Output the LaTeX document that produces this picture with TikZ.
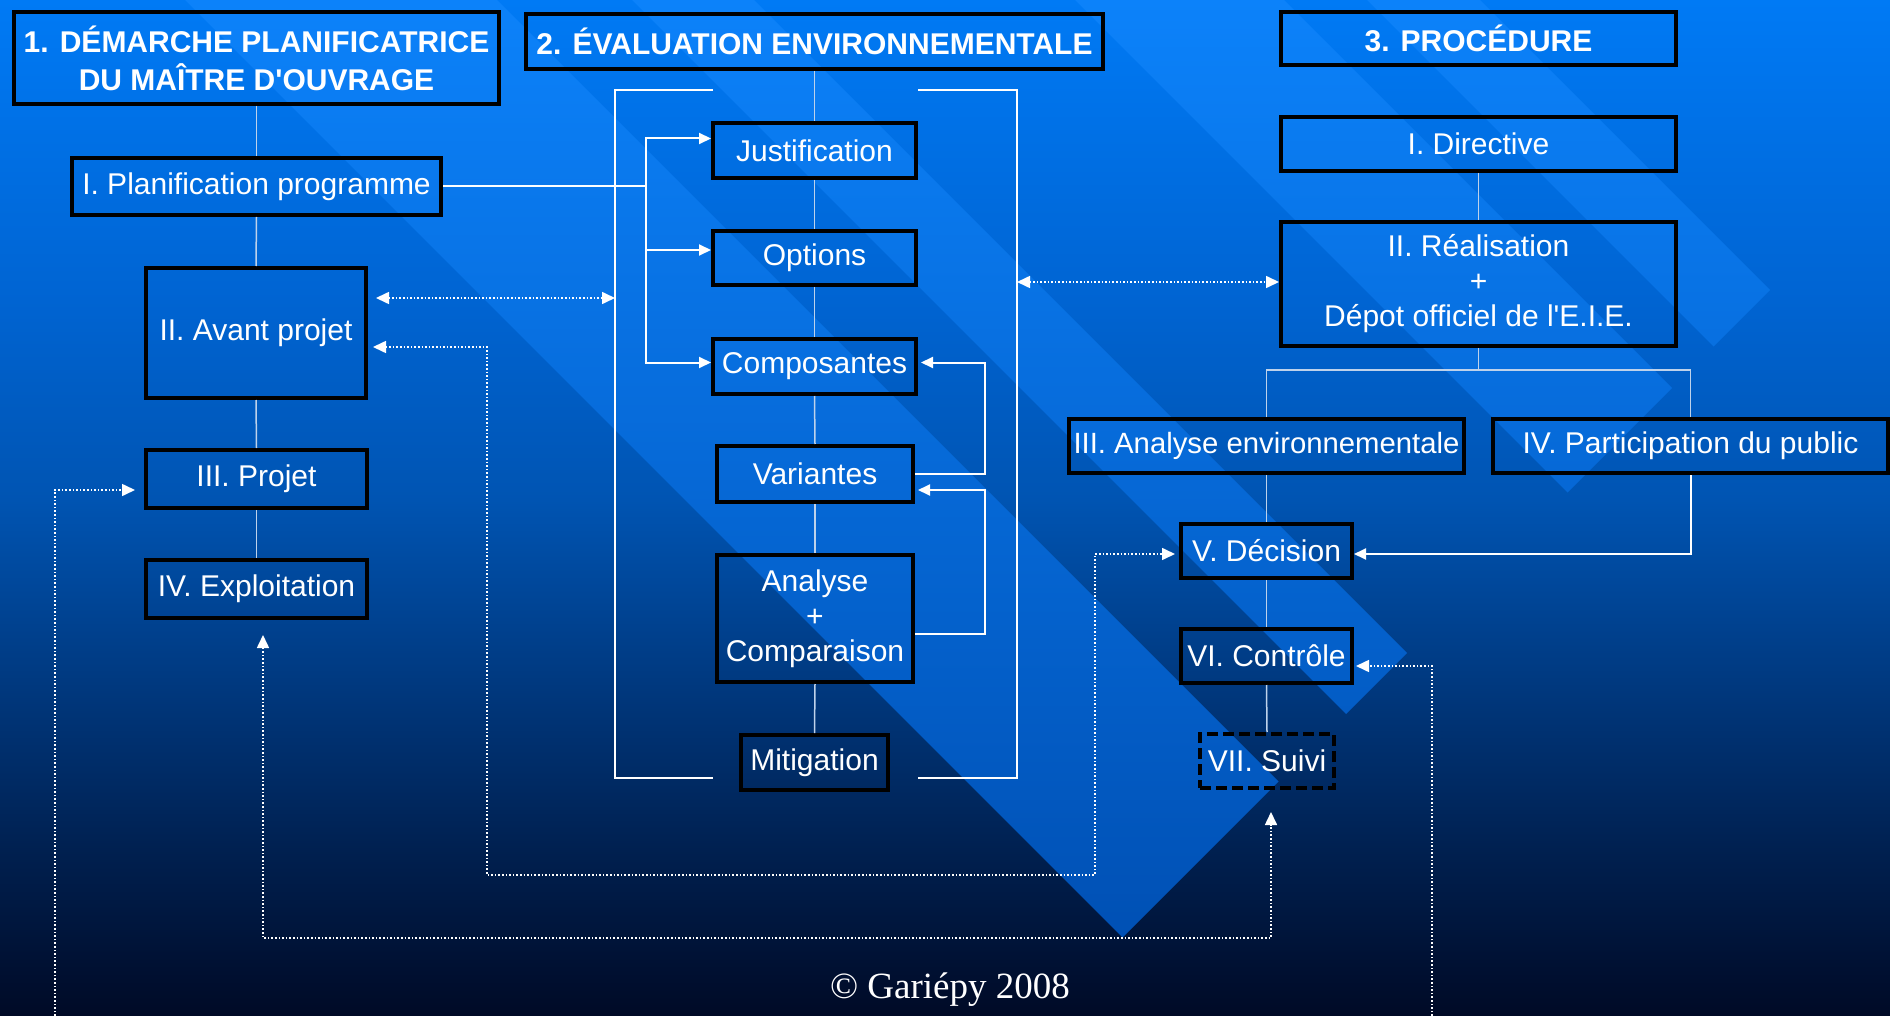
\documentclass[tikz,border=0pt]{standalone}
\usepackage{fontspec}
\setmainfont{Liberation Sans}[Ligatures=TeXOff]
\newfontfamily\copyfont{Liberation Serif}
\usetikzlibrary{arrows.meta}
\definecolor{bgA}{RGB}{0,122,245}
\definecolor{bgB}{RGB}{0,100,210}
\definecolor{bgC}{RGB}{0,84,178}
\definecolor{bgD}{RGB}{0,54,122}
\definecolor{bgE}{RGB}{0,32,80}
\definecolor{bgF}{RGB}{0,10,38}
\definecolor{bandTop}{RGB}{12,130,250}
\definecolor{bandBot}{RGB}{0,80,180}
\definecolor{thinln}{RGB}{190,210,235}
\tikzset{
 box/.style={draw=black, line width=4pt, text=white, inner sep=0pt, align=center, font=\fontsize{30}{35}\selectfont},
 titlebox/.style={box, font=\bfseries\fontsize{30}{38}\selectfont},
 suivibox/.style={box, dash pattern=on 11pt off 5pt},
 thinline/.style={draw=thinln, line width=1.5pt},
 wline/.style={draw=white, line width=2pt},
 arr/.style={wline, -{Triangle[length=12pt,width=11pt]}},
 dotln/.style={draw=white, line width=1.6pt, dash pattern=on 1.6pt off 2pt},
 darr/.style={dotln, {Triangle[length=13pt,width=12pt]}-{Triangle[length=13pt,width=12pt]}},
 parr/.style={dotln, -{Triangle[length=13pt,width=12pt]}},
}
\begin{document}
\begin{tikzpicture}[x=1pt,y=-1pt]
\path[use as bounding box] (0,0) rectangle (1890,1016);
% background gradient
\shade[top color=bgA, bottom color=bgB] (0,0) rectangle (1890,301);
\shade[top color=bgB, bottom color=bgC] (0,300) rectangle (1890,501);
\shade[top color=bgC, bottom color=bgD] (0,500) rectangle (1890,701);
\shade[top color=bgD, bottom color=bgE] (0,700) rectangle (1890,851);
\shade[top color=bgE, bottom color=bgF] (0,850) rectangle (1890,1016);
% diagonal bands
\begin{scope}
\clip (-77.5,-262.5) -- (1122.5,937.5) -- (1278.5,781.5) -- (78.5,-418.5) -- cycle
      (146,-486) -- (1346,714) -- (1407,653) -- (207,-547) -- cycle
      (367.5,-707.5) -- (1567.5,492.5) -- (1672,388) -- (472,-812) -- cycle
      (513.5,-853.5) -- (1713.5,346.5) -- (1770,290) -- (570,-910) -- cycle;
\shade[top color=bandTop, bottom color=bandBot] (0,0) rectangle (1890,940);
\end{scope}

% column 1
\node[titlebox, minimum width=485pt, minimum height=92pt] (t1) at (256.5,58) {1. DÉMARCHE PLANIFICATRICE\\DU MAÎTRE D'OUVRAGE};
\node[box, minimum width=369pt, minimum height=57pt] (plan) at (256.5,186.5) {I. Planification programme};
\node[box, minimum width=220pt, minimum height=130pt] (avant) at (256,333) {II. Avant projet};
\node[box, minimum width=221pt, minimum height=58pt] (projet) at (256.5,479) {III. Projet};
\node[box, minimum width=221pt, minimum height=58pt] (exploit) at (256.5,589) {IV. Exploitation};

% column 2
\node[titlebox, minimum width=577pt, minimum height=55pt] (t2) at (814.5,41.5) {2. ÉVALUATION ENVIRONNEMENTALE};
\node[box, minimum width=203pt, minimum height=55pt] (just) at (814.5,150.5) {Justification};
\node[box, minimum width=203pt, minimum height=54pt] (opt) at (814.5,258) {Options};
\node[box, minimum width=203pt, minimum height=55pt] (comp) at (814.5,366.5) {Composantes};
\node[box, minimum width=196pt, minimum height=56pt] (var) at (815,474) {Variantes};
\node[box, minimum width=196pt, minimum height=127pt] (anal) at (815,618.5) {Analyse\\+\\Comparaison};
\node[box, minimum width=147pt, minimum height=55pt] (mitig) at (814.5,762.5) {Mitigation};

% column 3
\node[titlebox, minimum width=395pt, minimum height=53pt] (t3) at (1478.5,38.5) {3. PROCÉDURE};
\node[box, minimum width=395pt, minimum height=54pt] (dir) at (1478.5,144) {I. Directive};
\node[box, minimum width=395pt, minimum height=124pt] (real) at (1478.5,284) {II. Réalisation\\+\\Dépot officiel de l'E.I.E.};
\node[box, minimum width=395pt, minimum height=54pt, font=\fontsize{29.3}{35}\selectfont] (anaenv) at (1266.5,446) {III. Analyse environnementale};
\node[box, minimum width=395pt, minimum height=54pt] (part) at (1690.5,446) {IV. Participation du public};
\node[box, minimum width=171pt, minimum height=54pt] (dec) at (1266.5,551) {V. Décision};
\node[box, minimum width=171pt, minimum height=54pt] (ctrl) at (1266.5,656) {VI. Contrôle};
\node[suivibox, minimum width=134pt, minimum height=54pt] (suivi) at (1267,761) {VII. Suivi};

\node[font=\copyfont\fontsize{37}{40}\selectfont, text=white, anchor=base] (copy) at (950,998) {© Gariépy 2008};

% thin column lines
\draw[thinline] (t1.south) -- (plan.north);
\draw[thinline] (plan.south) -- (avant.north);
\draw[thinline] (avant.south) -- (projet.north);
\draw[thinline] (projet.south) -- (exploit.north);
\draw[thinline] (t2.south) -- (just.north);
\draw[thinline] (just.south) -- (opt.north);
\draw[thinline] (opt.south) -- (comp.north);
\draw[thinline] (comp.south) -- (var.north);
\draw[thinline] (var.south) -- (anal.north);
\draw[thinline] (anal.south) -- (mitig.north);
\draw[thinline] (dir.south) -- (real.north);
\coordinate (tree) at (1478.5,370);
\draw[thinline] (real.south) -- (tree);
\draw[thinline] (anaenv.north) |- (tree) -| (part.north);
\draw[thinline] (anaenv.south) -- (dec.north);
\draw[thinline] (dec.south) -- (ctrl.north);
\draw[thinline] (ctrl.south) -- (suivi.north);

% brackets around the evaluation column
\coordinate (bl1) at (713,90);
\coordinate (bl2) at (615,90);
\coordinate (bl3) at (615,778);
\coordinate (bl4) at (713,778);
\coordinate (br1) at (918,90);
\coordinate (br2) at (1017,90);
\coordinate (br3) at (1017,778);
\coordinate (br4) at (918,778);
\draw[wline] (bl1) -- (bl2) -- (bl3) -- (bl4);
\draw[wline] (br1) -- (br2) -- (br3) -- (br4);

% planification fork
\coordinate (fork) at (646,186.5);
\draw[wline] (plan.east) -- (fork);
\draw[arr] (fork) |- ([yshift=12pt]just.west);
\draw[arr] (fork) |- ([yshift=8pt]opt.west);
\draw[arr] (fork) |- ([yshift=4pt]comp.west);

% feedback loops
\coordinate (fbx) at (985,0);
\draw[arr] ([yshift=-15.5pt]anal.east) -- ([yshift=-15.5pt]anal.east -| fbx) |- ([xshift=3pt,yshift=-16pt]var.east);
\draw[arr] (var.east) -- (var.east -| fbx) |- ([xshift=3pt,yshift=4pt]comp.east);
\draw[arr] (part.south) |- ([yshift=-3pt]dec.east);

% dotted links
\coordinate (lb) at (615,298);
\draw[darr] ([xshift=8pt,yshift=35pt]avant.east) -- (lb);
\coordinate (rb) at (1017,282);
\draw[darr] (rb) -- ([yshift=2pt]real.west);
\coordinate (c1) at (487,875);
\coordinate (c2) at (1095,554);
\draw[darr] ([xshift=5pt,yshift=-14pt]avant.east) -| (c1) -| (c2) -- ([xshift=-4pt,yshift=-3pt]dec.west);
\coordinate (c3) at (1271,938);
\draw[darr] ([xshift=6.5pt,yshift=-15pt]exploit.south) |- (c3) -- ([xshift=4pt,yshift=-22pt]suivi.south);
\coordinate (bot1) at (55,1016);
\draw[parr] (bot1) |- ([xshift=-9pt,yshift=-11pt]projet.west);
\coordinate (bot2) at (1432,1016);
\draw[parr] (bot2) |- ([xshift=2pt,yshift=-10pt]ctrl.east);
\end{tikzpicture}
\end{document}
